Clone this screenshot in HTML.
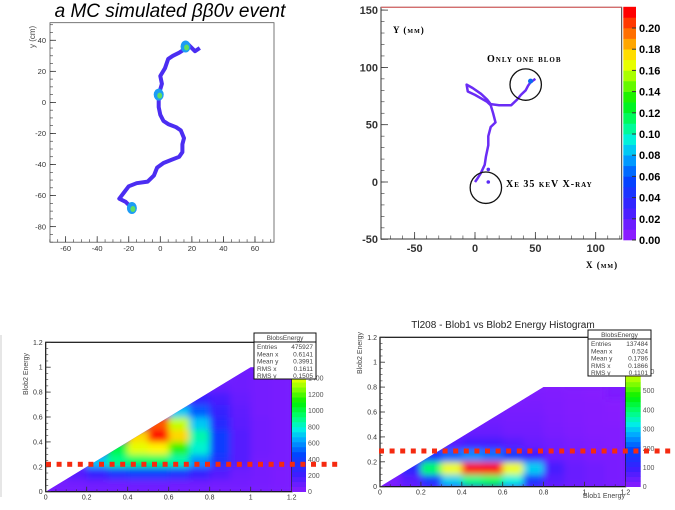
<!DOCTYPE html>
<html><head><meta charset="utf-8">
<style>
html,body{margin:0;padding:0;background:#fff;}
svg{display:block;font-family:"Liberation Sans",sans-serif;}
.sc{font-family:"Liberation Serif",serif;font-variant:small-caps;font-weight:bold;letter-spacing:1px;}
</style></head>
<body>
<svg id="s" width="675" height="510" viewBox="0 0 675 510" xmlns="http://www.w3.org/2000/svg">
<defs>
<clipPath id="c3"><polygon points="45.7,491.7 250.7,367.2 292,367.2 292,491.7"/></clipPath>
<clipPath id="c4"><polygon points="380,486.7 543.6,387 625.7,387 625.7,486.7"/></clipPath>
<filter id="bl" x="-20%" y="-20%" width="140%" height="140%"><feGaussianBlur stdDeviation="3.5"/></filter>
</defs>
<text x="170" y="17" font-size="19" font-style="italic" text-anchor="middle" font-family="Liberation Sans, sans-serif">a MC simulated ββ0ν event</text>
<text x="35" y="48" font-size="8" fill="#444" transform="rotate(-90 35 48)">y (cm)</text>
<rect x="50" y="22.7" width="224" height="219.5" fill="none" stroke="#555" stroke-width="0.8"/>
<rect x="381" y="7.3" width="240.7" height="231.7" fill="none" stroke="#333" stroke-width="1"/>
<line x1="381" y1="7.3" x2="621.7" y2="7.3" stroke="#e66" stroke-width="1"/>
<text x="393" y="33" font-size="9" class="sc">Y (mm)</text>
<text x="487" y="62" font-size="10" class="sc">Only one blob</text>
<text x="506" y="187" font-size="10" class="sc">Xe 35 keV X-ray</text>
<text x="586" y="268" font-size="9" class="sc">X (mm)</text>
<line x1="1" y1="335" x2="1" y2="497" stroke="#ccc" stroke-width="1"/>
<text x="28" y="395" font-size="7" fill="#444" transform="rotate(-90 28 395)">Blob2 Energy</text>
<text x="503" y="328" font-size="10" text-anchor="middle" fill="#222">Tl208 - Blob1 vs Blob2 Energy Histogram</text>
<text x="362" y="374" font-size="7" fill="#444" transform="rotate(-90 362 374)">Blob2 Energy</text>
<text x="625" y="498" font-size="7" fill="#444" text-anchor="end">Blob1 Energy</text>
<g id="g"></g>
</svg>
<script>
// ---------- data ----------
const p1TrackX=[25,22,18,15,12,8,5,3,0,1,-1,-1,0,2,5,10,13,15,14,14,12,7,2,-2,-4,-8,-15,-20,-23,-26,-22,-18];
const p1TrackY=[35,33,37,34,32,30,28,22,17,12,5,-3,-8,-12,-14,-16,-18,-23,-27,-32,-35,-37,-39,-42,-47,-51,-52,-54,-58,-62,-64,-68];
const p1BlobX=[16,-1,-18];
const p1BlobY=[36,5,-68];
const p1XTicks=[-60,-40,-20,0,20,40,60];
const p1YTicks=[-80,-60,-40,-20,0,20,40];
const p2TrackX=[0,2,5,8,9,11,11,13,17,15,13,10,5,0,-6,-7,-2,5,10,13,20,30,35,38,42,44,46,50];
const p2TrackY=[0,3,8,15,22,32,40,48,52,60,67,70,73,76,79,85,82,77,72,68,67,67,72,76,80,84,87,90];
const p2DotX=[11,11];
const p2DotY=[11,0];
const p2CircleX=[42,9];
const p2CircleY=[85,-5];
const p2XTicks=[-50,0,50,100];
const p2YTicks=[-50,0,50,100,150];
const p2ZTicks=[0,0.02,0.04,0.06,0.08,0.10,0.12,0.14,0.16,0.18,0.20];
const p3Values=[ // rows j=0 (y 0-0.1) .. j=9, columns i=0..11 (x bins of 0.1)
 [60,60,70,70,80,80,70,70,60,60,50,40],
 [0,150,250,350,400,400,350,250,150,80,60,40],
 [0,0,700,900,950,950,850,600,350,150,60,50],
 [0,0,0,1000,1400,1450,1150,800,400,150,70,50],
 [0,0,0,0,1500,1900,1500,850,400,150,70,50],
 [0,0,0,0,0,1700,1350,700,300,130,70,50],
 [0,0,0,0,0,0,700,500,250,120,60,50],
 [0,0,0,0,0,0,0,250,180,100,60,50],
 [0,0,0,0,0,0,0,0,100,80,60,50],
 [0,0,0,0,0,0,0,0,0,80,60,50]];
const p4Values=[
 [20,60,150,300,380,400,330,150,60,40,30,20],
 [0,120,400,600,800,850,600,300,80,40,30,20],
 [0,0,150,220,250,230,170,90,40,30,20,20],
 [0,0,0,60,80,80,60,40,30,20,15,10],
 [0,0,0,0,40,40,30,30,20,15,10,10],
 [0,0,0,0,0,30,25,25,18,12,8,6],
 [0,0,0,0,0,0,20,20,15,10,8,5],
 [0,0,0,0,0,0,0,15,12,8,5,0],
 [0,0,0,0,0,0,0,0,5,0,0,0],
 [0,0,0,0,0,0,0,0,0,0,0,0]];
const hXTicks=[0,0.2,0.4,0.6,0.8,1,1.2];
const hYTicks=[0,0.2,0.4,0.6,0.8,1,1.2];
const p3ZTicks=[0,200,400,600,800,1000,1200,1400];
const p4ZTicks=[0,100,200,300,400,500,600];
const p3Stats=[["Entries","475927"],["Mean x","0.6141"],["Mean y","0.3991"],["RMS x","0.1611"],["RMS y","0.1505"]];
const p4Stats=[["Entries","137484"],["Mean x","0.524"],["Mean y","0.1786"],["RMS x","0.1866"],["RMS y","0.1101"]];

// ---------- scales ----------
const x1=v=>160.3+v*1.578, y1=v=>102.4-v*1.553;
const x2=v=>475+v*1.207, y2=v=>182-v*1.146;
const x3=v=>45.7+v*205, y3=v=>491.7-v*124.5;
const x4=v=>380+v*204.5, y4=v=>486.7-v*124.5;
const z2=v=>240-v*1060, z3=v=>491.7-v*0.0811, z4=v=>486.7-v*0.192;

const NS="http://www.w3.org/2000/svg";
const G=document.getElementById('g');
function mk(tag,parent){const e=document.createElementNS(NS,tag);(parent||G).appendChild(e);return e;}
function cmap(t){
  const st=[[0,[138,28,255]],[0.12,[60,30,255]],[0.25,[0,70,255]],[0.35,[0,170,255]],[0.42,[0,240,230]],[0.5,[0,255,120]],[0.6,[0,240,0]],[0.7,[150,255,0]],[0.78,[255,255,0]],[0.88,[255,140,0]],[1,[255,0,0]]];
  t=Math.max(0,Math.min(1,t));
  for(let k=1;k<st.length;k++){if(t<=st[k][0]){const a=st[k-1],b=st[k],f=(t-a[0])/(b[0]-a[0]);
    return 'rgb('+a[1].map((c,m)=>Math.round(c+(b[1][m]-c)*f)).join(',')+')';}}
  return 'rgb(255,0,0)';
}

// ---------- panel 1 ----------
let d='';
for(let k=0;k<p1TrackX.length;k++) d+=(k?'L':'M')+x1(p1TrackX[k]).toFixed(1)+' '+y1(p1TrackY[k]).toFixed(1);
let e=mk('path'); e.setAttribute('d',d); e.setAttribute('fill','none'); e.setAttribute('stroke','#4b2df2'); e.setAttribute('stroke-width','4'); e.setAttribute('stroke-linejoin','round');


for(let k=0;k<p1BlobX.length;k++){
  const o=mk('ellipse'); o.setAttribute('cx',x1(p1BlobX[k])); o.setAttribute('cy',y1(p1BlobY[k])); o.setAttribute('rx',5); o.setAttribute('ry',6); o.setAttribute('fill','#1c9cf5');
  
  
  const i=mk('ellipse'); i.setAttribute('cx',x1(p1BlobX[k])+1); i.setAttribute('cy',y1(p1BlobY[k])+1); i.setAttribute('rx',2.5); i.setAttribute('ry',3); i.setAttribute('fill','#5fe060');
  
  
}
function ticksX(vals,sx,yb,len,fs,dy,fw,minorStep,lo,hi,name){
  vals.forEach(v=>{const t=mk('line');t.setAttribute('x1',sx(v));t.setAttribute('x2',sx(v));t.setAttribute('y1',yb);t.setAttribute('y2',yb-len);t.setAttribute('stroke','#333');t.setAttribute('stroke-width','0.8');
    
    
    const l=mk('text');l.setAttribute('x',sx(v));l.setAttribute('y',yb+dy);l.setAttribute('font-size',fs);l.setAttribute('text-anchor','middle');l.setAttribute('font-weight',fw);l.setAttribute('fill','#333');l.textContent=String(v);
    
    });
  for(let v=lo;v<=hi+1e-9;v+=minorStep){const t=mk('line');t.setAttribute('x1',sx(v));t.setAttribute('x2',sx(v));t.setAttribute('y1',yb);t.setAttribute('y2',yb-len/2);t.setAttribute('stroke','#333');t.setAttribute('stroke-width','0.6');
    
    }
}
function ticksY(vals,sy,xl,len,fs,dx,fw,minorStep,lo,hi,name){
  vals.forEach(v=>{const t=mk('line');t.setAttribute('x1',xl);t.setAttribute('x2',xl+len);t.setAttribute('y1',sy(v));t.setAttribute('y2',sy(v));t.setAttribute('stroke','#333');t.setAttribute('stroke-width','0.8');
    
    
    const l=mk('text');l.setAttribute('x',xl-dx);l.setAttribute('y',sy(v)+fs*0.35);l.setAttribute('font-size',fs);l.setAttribute('text-anchor','end');l.setAttribute('font-weight',fw);l.setAttribute('fill','#333');l.textContent=String(v);
    
    });
  for(let v=lo;v<=hi+1e-9;v+=minorStep){const t=mk('line');t.setAttribute('x1',xl);t.setAttribute('x2',xl+len/2);t.setAttribute('y1',sy(v));t.setAttribute('y2',sy(v));t.setAttribute('stroke','#333');t.setAttribute('stroke-width','0.6');
    
    }
}
ticksX(p1XTicks,x1,242.2,6,7.5,9,'normal',5,-70,70,'panel1');
ticksY(p1YTicks,y1,50,6,7.5,4,'normal',5,-90,50,'panel1');

// ---------- panel 2 ----------
d='';
for(let k=0;k<p2TrackX.length;k++) d+=(k?'L':'M')+x2(p2TrackX[k]).toFixed(1)+' '+y2(p2TrackY[k]).toFixed(1);
e=mk('path'); e.setAttribute('d',d); e.setAttribute('fill','none'); e.setAttribute('stroke','#6a2cf5'); e.setAttribute('stroke-width','2.5'); e.setAttribute('stroke-linejoin','round');


for(let k=0;k<p2DotX.length;k++){const c=mk('circle');c.setAttribute('cx',x2(p2DotX[k]));c.setAttribute('cy',y2(p2DotY[k]));c.setAttribute('r',1.8);c.setAttribute('fill','#5a2cf5');
  
  }
const bb=mk('circle');bb.setAttribute('cx',x2(46));bb.setAttribute('cy',y2(88));bb.setAttribute('r',2.5);bb.setAttribute('fill','#0a6cf0');


for(let k=0;k<p2CircleX.length;k++){const c=mk('circle');c.setAttribute('cx',x2(p2CircleX[k]));c.setAttribute('cy',y2(p2CircleY[k]));c.setAttribute('r',15.7);c.setAttribute('fill','none');c.setAttribute('stroke','#111');c.setAttribute('stroke-width','1.3');
  
  }
ticksX(p2XTicks,x2,239,7,11,13,'bold',10,-70,120,'panel2');
ticksY(p2YTicks,y2,381,7,11,3,'bold',10,-50,150,'panel2');
for(let k=0;k<22;k++){const r=mk('rect');r.setAttribute('x',623.3);r.setAttribute('width',12.7);r.setAttribute('y',z2((k+1)*0.01));r.setAttribute('height',z2(0)-z2(0.01)+0.3);r.setAttribute('fill',cmap(k/21));
  
  }
p2ZTicks.forEach(v=>{const l=mk('text');l.setAttribute('x',639);l.setAttribute('y',z2(v)+4);l.setAttribute('font-size',11);l.setAttribute('font-weight','bold');l.textContent=v.toFixed(2);
  
  
  const t=mk('line');t.setAttribute('x1',632);t.setAttribute('x2',636);t.setAttribute('y1',z2(v));t.setAttribute('y2',z2(v));t.setAttribute('stroke','#333');
  
  });

// ---------- heatmaps ----------
function heat(vals,sx,sy,zmax,clip,name){
  const outer=mk('g');outer.setAttribute('clip-path','url(#'+clip+')');
  
  
  const bg=mk('rect',outer);bg.setAttribute('x',sx(0));bg.setAttribute('y',sy(1.2));bg.setAttribute('width',sx(1.2)-sx(0));bg.setAttribute('height',sy(0)-sy(1.2));bg.setAttribute('fill',cmap(0.02));
  
  
  const g=mk('g',outer);g.setAttribute('filter','url(#bl)');
  vals.forEach((row,j)=>row.forEach((v,i)=>{if(v<=0)return;const r=mk('rect',g);
    r.setAttribute('x',sx(i*0.1));r.setAttribute('y',sy((j+1)*0.1));r.setAttribute('width',sx(0.1)-sx(0)+0.4);r.setAttribute('height',sy(0)-sy(0.1)+0.4);r.setAttribute('fill',cmap(v/zmax));
    
    }));
}
function cbar(sz,x0,w,zmax,ticks,top,name){
  const n=30;for(let k=0;k<n;k++){const v0=k*zmax/n,v1=(k+1)*zmax/n;const r=mk('rect');r.setAttribute('x',x0);r.setAttribute('width',w);r.setAttribute('y',sz(v1));r.setAttribute('height',sz(v0)-sz(v1)+0.3);r.setAttribute('fill',cmap((k+0.5)/n));
    
    }
  ticks.forEach(v=>{const l=mk('text');l.setAttribute('x',x0+w+2);l.setAttribute('y',sz(v)+2.5);l.setAttribute('font-size',7);l.setAttribute('fill','#555');l.textContent=String(v);
    
    });
}
function stats(x,y,w,rows,name){
  const r=mk('rect');r.setAttribute('x',x);r.setAttribute('y',y);r.setAttribute('width',w);r.setAttribute('height',46);r.setAttribute('fill','#fff');r.setAttribute('stroke','#111');r.setAttribute('stroke-width','1');
  
  
  const h=mk('text');h.setAttribute('x',x+w/2);h.setAttribute('y',y+7);h.setAttribute('font-size',6.5);h.setAttribute('text-anchor','middle');h.setAttribute('fill','#444');h.textContent='BlobsEnergy';
  
  
  const ln=mk('line');ln.setAttribute('x1',x);ln.setAttribute('x2',x+w);ln.setAttribute('y1',y+9);ln.setAttribute('y2',y+9);ln.setAttribute('stroke','#111');
  
  
  rows.forEach((rw,k)=>{const a=mk('text');a.setAttribute('x',x+3);a.setAttribute('y',y+16+k*7.3);a.setAttribute('font-size',6.5);a.setAttribute('fill','#444');a.textContent=rw[0];
    
    
    const b=mk('text');b.setAttribute('x',x+w-3);b.setAttribute('y',y+16+k*7.3);b.setAttribute('font-size',6.5);b.setAttribute('text-anchor','end');b.setAttribute('fill','#444');b.textContent=rw[1];
    
    });
}
function dashes(y,xa,xb,name){for(let x=xa;x<xb;x+=10.6){const r=mk('rect');r.setAttribute('x',x);r.setAttribute('y',y-2.5);r.setAttribute('width',5);r.setAttribute('height',5);r.setAttribute('fill','#f52a10');
  
  }}

// panel 3
heat(p3Values,x3,y3,1840,'c3','panel3');
e=mk('rect');e.setAttribute('x',45.7);e.setAttribute('y',342.3);e.setAttribute('width',246.3);e.setAttribute('height',149.4);e.setAttribute('fill','none');e.setAttribute('stroke','#111');e.setAttribute('stroke-width','1.2');


ticksX(hXTicks,x3,491.7,5,7,8,'normal',0.05,0,1.2,'panel3');
ticksY(hYTicks,y3,45.7,5,7,3,'normal',0.05,0,1.2,'panel3');
cbar(z3,292,14,1840,p3ZTicks,342.3,'panel3');
stats(254,333,62,p3Stats,'panel3');
dashes(464.3,46,338,'panel3');

// panel 4
heat(p4Values,x4,y4,780,'c4','panel4');
e=mk('rect');e.setAttribute('x',380);e.setAttribute('y',337.3);e.setAttribute('width',245.7);e.setAttribute('height',149.4);e.setAttribute('fill','none');e.setAttribute('stroke','#111');e.setAttribute('stroke-width','1.2');


ticksX(hXTicks,x4,486.7,5,7,8,'normal',0.05,0,1.2,'panel4');
ticksY(hYTicks,y4,380,5,7,3,'normal',0.05,0,1.2,'panel4');
cbar(z4,625.7,15,780,p4ZTicks,337.3,'panel4');
stats(588,330,63,p4Stats,'panel4');
dashes(451,379,675,'panel4');
</script>
</body></html>
